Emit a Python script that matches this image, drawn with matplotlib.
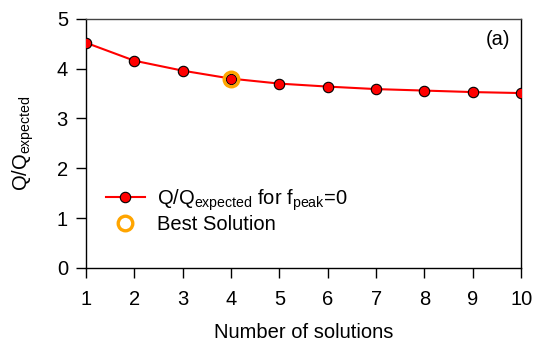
import matplotlib
matplotlib.use('Agg')
import matplotlib.pyplot as plt

plt.rcParams['font.family'] = ['Liberation Sans', 'DejaVu Sans']

n_solutions = [1, 2, 3, 4, 5, 6, 7, 8, 9, 10]
q_ratio = [4.52, 4.16, 3.96, 3.80, 3.70, 3.64, 3.59, 3.56, 3.53, 3.51]
best_n = [4]
best_q = [3.80]

fig = plt.figure(figsize=(5.34, 3.43), dpi=100)
ax = fig.add_axes([0.161, 0.219, 0.815, 0.726])

ax.plot(n_solutions, q_ratio, '-o', color='red', lw=1.5, ms=7.5,
        mfc='red', mec='black', mew=0.8,
        label=r'Q/Q$_{\mathregular{expected}}$ for f$_{\mathregular{peak}}$=0', zorder=3)
ax.plot(best_n, best_q, 'o', ls='none', ms=10.5, mfc='none', mec='orange', mew=2.4,
        label='Best Solution', zorder=4)

ax.set_xlim(1, 10)
ax.set_ylim(0, 5)
ax.set_xticks(range(1, 11))
ax.set_yticks(range(0, 6))
ax.tick_params(direction='out', length=7, width=1, pad=6, labelsize=14.5,
               top=False, right=False)
ax.tick_params(axis='x', pad=9)
for s in ax.spines.values():
    s.set_linewidth(1)
ax.spines['top'].set_color('#444444')

ax.set_xlabel('Number of solutions', fontsize=14.5, labelpad=10)
ax.set_ylabel(r'Q/Q$_{\mathregular{expected}}$', fontsize=14.5, labelpad=15)
ax.text(0.975, 0.916, '(a)', transform=ax.transAxes, ha='right', va='center', fontsize=14.5)

ax.legend(loc='lower left', bbox_to_anchor=(0.005, 0.065), frameon=False, fontsize=14.5,
          handlelength=1.9, handletextpad=0.6, labelspacing=0.1)

fig.savefig('out.png', dpi=100)
